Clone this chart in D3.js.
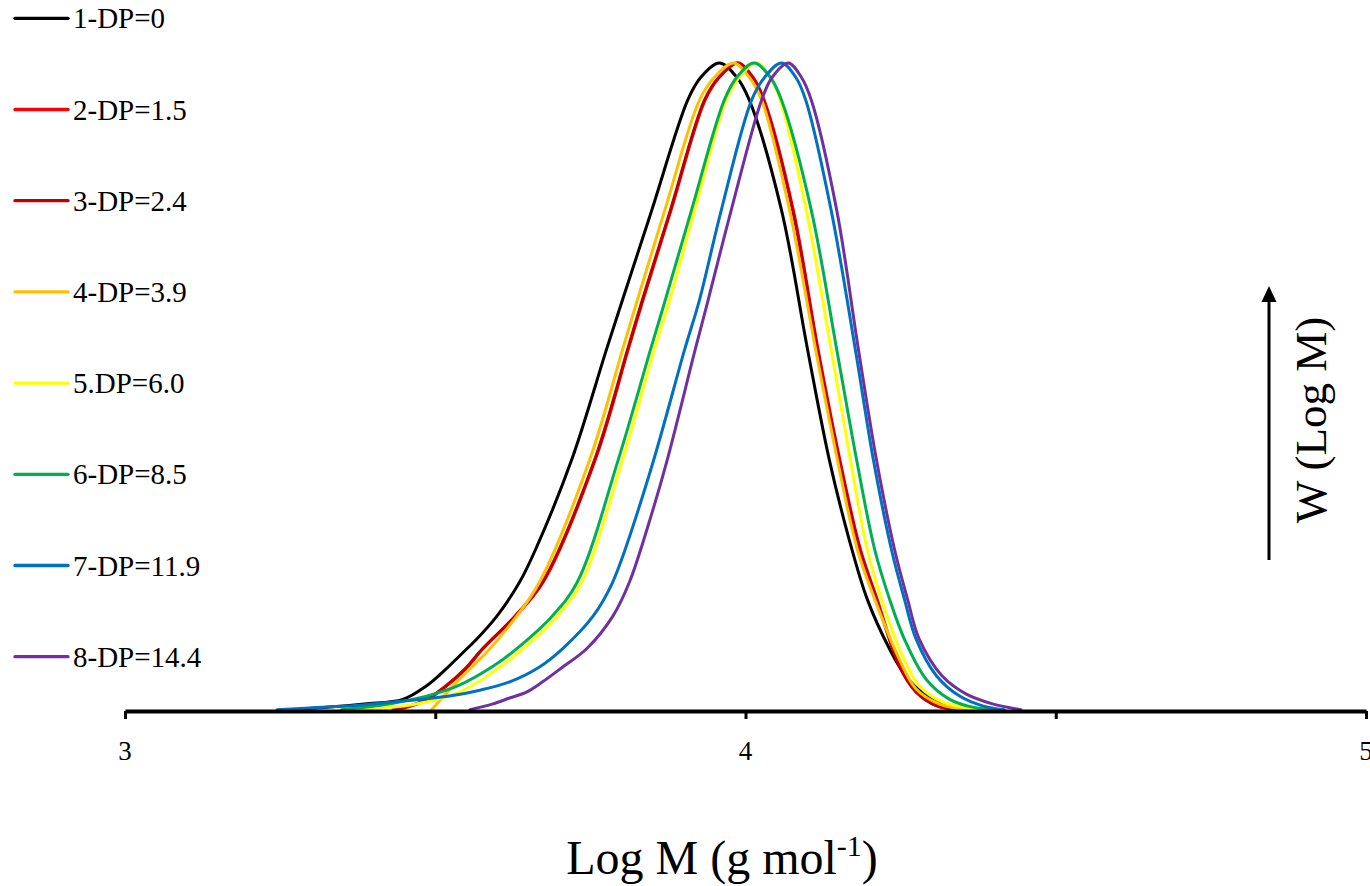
<!DOCTYPE html>
<html>
<head>
<meta charset="utf-8">
<script src="https://cdn.jsdelivr.net/npm/d3@7"></script>
<style>
  html, body { margin: 0; padding: 0; background: #ffffff; }
  svg { display: block; }
  text { font-family: "Liberation Serif", "Times New Roman", Times, serif; fill: #000; }
</style>
</head>
<body>
<svg id="chart" width="1370" height="886"></svg>
<script>
// ---------- DATA ----------
const seriesNames = ["1-DP=0", "2-DP=1.5", "3-DP=2.4", "4-DP=3.9", "5.DP=6.0", "6-DP=8.5", "7-DP=11.9", "8-DP=14.4"];
const seriesColors = ["#000000", "#FF0000", "#C00000", "#FFC000", "#FFFF00", "#00B050", "#0070C0", "#7030A0"];

const xTickValues = [3, 3.5, 4, 4.5, 5];
const xLabelValues = [3, 4, 5];
const xLabelTexts = ["3", "4", "5"];

// Series 1: DP=0
const logM1 = [3.282, 3.330, 3.386, 3.448, 3.486, 3.512, 3.551, 3.567, 3.599, 3.636, 3.662, 3.720, 3.776, 3.802, 3.849, 3.907, 3.928, 3.958, 3.986, 4.006, 4.058, 4.100, 4.135, 4.167, 4.196, 4.232, 4.256, 4.288, 4.337];
const w1    = [0.003, 0.006, 0.011, 0.018, 0.039, 0.060, 0.096, 0.111, 0.146, 0.199, 0.250, 0.388, 0.558, 0.635, 0.773, 0.943, 0.978, 1.000, 0.978, 0.943, 0.773, 0.558, 0.388, 0.265, 0.173, 0.096, 0.057, 0.026, 0.003];

// Series 2: DP=1.5
const logM2 = [3.440, 3.462, 3.488, 3.516, 3.549, 3.577, 3.629, 3.674, 3.758, 3.811, 3.835, 3.880, 3.935, 3.958, 3.988, 4.012, 4.030, 4.077, 4.117, 4.152, 4.185, 4.212, 4.249, 4.276, 4.309, 4.345];
const w2    = [0.002, 0.008, 0.018, 0.037, 0.065, 0.096, 0.146, 0.199, 0.388, 0.558, 0.635, 0.773, 0.943, 0.978, 1.000, 0.978, 0.943, 0.773, 0.558, 0.388, 0.250, 0.173, 0.069, 0.029, 0.008, 0.002];

// Series 3: DP=2.4
const logM3 = [3.432, 3.459, 3.486, 3.515, 3.548, 3.576, 3.628, 3.673, 3.757, 3.810, 3.834, 3.879, 3.934, 3.957, 3.987, 4.011, 4.029, 4.076, 4.116, 4.151, 4.184, 4.211, 4.248, 4.275, 4.308, 4.349];
const w3    = [0.002, 0.008, 0.018, 0.037, 0.065, 0.096, 0.146, 0.199, 0.388, 0.558, 0.635, 0.773, 0.943, 0.978, 1.000, 0.978, 0.943, 0.773, 0.558, 0.388, 0.250, 0.173, 0.069, 0.029, 0.008, 0.002];

// Series 4: DP=3.9
const logM4 = [3.494, 3.535, 3.588, 3.631, 3.668, 3.749, 3.802, 3.826, 3.870, 3.926, 3.950, 3.981, 4.006, 4.026, 4.071, 4.113, 4.148, 4.180, 4.208, 4.248, 4.275, 4.312, 4.356];
const w4    = [0.002, 0.045, 0.096, 0.146, 0.199, 0.388, 0.558, 0.635, 0.773, 0.943, 0.978, 1.000, 0.978, 0.943, 0.773, 0.558, 0.388, 0.250, 0.173, 0.080, 0.034, 0.011, 0.002];

// Series 5: DP=6.0
const logM5 = [3.378, 3.432, 3.486, 3.539, 3.593, 3.641, 3.696, 3.736, 3.802, 3.853, 3.878, 3.918, 3.969, 3.990, 4.018, 4.040, 4.056, 4.098, 4.138, 4.169, 4.196, 4.219, 4.248, 4.280, 4.317, 4.380];
const w5    = [0.002, 0.006, 0.014, 0.029, 0.060, 0.096, 0.146, 0.199, 0.388, 0.558, 0.635, 0.773, 0.943, 0.978, 1.000, 0.978, 0.943, 0.773, 0.558, 0.388, 0.250, 0.173, 0.096, 0.039, 0.014, 0.002];

// Series 6: DP=8.5
const logM6 = [3.349, 3.406, 3.448, 3.486, 3.539, 3.593, 3.631, 3.688, 3.729, 3.795, 3.847, 3.871, 3.913, 3.966, 3.986, 4.014, 4.040, 4.058, 4.106, 4.147, 4.179, 4.208, 4.232, 4.256, 4.291, 4.329, 4.366, 4.404];
const w6    = [0.002, 0.008, 0.015, 0.023, 0.040, 0.069, 0.096, 0.146, 0.199, 0.388, 0.558, 0.635, 0.773, 0.943, 0.978, 1.000, 0.978, 0.943, 0.773, 0.558, 0.388, 0.250, 0.173, 0.111, 0.049, 0.018, 0.006, 0.002];

// Series 7: DP=11.9
const logM7 = [3.245, 3.325, 3.378, 3.443, 3.523, 3.572, 3.620, 3.668, 3.705, 3.754, 3.786, 3.845, 3.902, 3.926, 3.961, 4.010, 4.031, 4.058, 4.081, 4.097, 4.138, 4.177, 4.206, 4.235, 4.256, 4.275, 4.308, 4.345, 4.382, 4.417];
const w7    = [0.002, 0.006, 0.009, 0.015, 0.023, 0.032, 0.045, 0.068, 0.096, 0.146, 0.199, 0.365, 0.558, 0.635, 0.773, 0.943, 0.978, 1.000, 0.978, 0.943, 0.773, 0.558, 0.388, 0.250, 0.173, 0.111, 0.054, 0.023, 0.008, 0.002];

// Series 8: DP=14.4
const logM8 = [3.556, 3.593, 3.620, 3.647, 3.673, 3.707, 3.744, 3.786, 3.813, 3.850, 3.874, 3.919, 3.940, 3.977, 4.026, 4.043, 4.069, 4.090, 4.106, 4.147, 4.182, 4.211, 4.240, 4.261, 4.280, 4.317, 4.356, 4.398, 4.444];
const w8    = [0.002, 0.011, 0.020, 0.029, 0.045, 0.069, 0.096, 0.146, 0.199, 0.308, 0.388, 0.558, 0.635, 0.773, 0.943, 0.978, 1.000, 0.978, 0.943, 0.773, 0.558, 0.388, 0.250, 0.173, 0.111, 0.054, 0.026, 0.011, 0.002];

const xValues = [logM1, logM2, logM3, logM4, logM5, logM6, logM7, logM8];
const yValues = [w1, w2, w3, w4, w5, w6, w7, w8];

const xTitle = "Log M (g mol";
const xTitleSup = "-1";
const yTitle = "W (Log M)";

// ---------- CHART ----------
const svg = d3.select("#chart");

const x = d3.scaleLinear().domain([3, 5]).range([125, 1366]);
const y = d3.scaleLinear().domain([0, 1]).range([711, 63]);

const line = d3.line()
  .x(d => x(d[0]))
  .y(d => y(d[1]))
  .curve(d3.curveCatmullRom.alpha(0.5));

// curves
const gCurves = svg.append("g");
seriesNames.forEach((name, i) => {
  const pts = xValues[i].map((v, j) => [v, yValues[i][j]]);
  gCurves.append("path")
    .datum(pts)
    .attr("d", line)
    .attr("fill", "none")
    .attr("stroke", seriesColors[i])
    .attr("stroke-width", 3)
    .attr("stroke-linejoin", "round")
    .attr("stroke-linecap", "round");
});

// x axis (line + tick marks)
const xAxis = d3.axisBottom(x)
  .tickValues(xTickValues)
  .tickFormat("")
  .tickSizeInner(8)
  .tickSizeOuter(0);

const gx = svg.append("g")
  .attr("transform", "translate(0,711)")
  .call(xAxis);
gx.select(".domain").attr("stroke", "#000").attr("stroke-width", 4);
gx.selectAll(".tick line").attr("stroke", "#000").attr("stroke-width", 3);

// x tick labels
svg.append("g").selectAll("text")
  .data(xLabelValues)
  .join("text")
  .attr("x", d => x(d))
  .attr("y", 760)
  .attr("text-anchor", "middle")
  .style("font-size", "27px")
  .text((d, i) => xLabelTexts[i]);

// x title
const xt = svg.append("text")
  .attr("x", 722)
  .attr("y", 874)
  .attr("text-anchor", "middle")
  .style("font-size", "48px");
xt.append("tspan").text(xTitle);
xt.append("tspan").style("font-size", "30px").attr("dy", -18).text(xTitleSup);
xt.append("tspan").style("font-size", "48px").attr("dy", 18).text(")");

// arrow + y title
svg.append("line")
  .attr("x1", 1269).attr("x2", 1269)
  .attr("y1", 560).attr("y2", 300)
  .attr("stroke", "#000").attr("stroke-width", 3);
svg.append("path")
  .attr("d", "M1269,286 L1276.5,302 L1261.5,302 Z")
  .attr("fill", "#000");
svg.append("text")
  .attr("transform", "translate(1326,420) rotate(-90)")
  .attr("text-anchor", "middle")
  .style("font-size", "45px")
  .text(yTitle);

// legend
const gLeg = svg.append("g");
seriesNames.forEach((name, i) => {
  const ly = 18.3 + i * 91.2;
  gLeg.append("line")
    .attr("x1", 15).attr("x2", 68)
    .attr("y1", ly).attr("y2", ly)
    .attr("stroke", seriesColors[i])
    .attr("stroke-width", 3.3)
    .attr("stroke-linecap", "round");
  gLeg.append("text")
    .attr("x", 73)
    .attr("y", ly + 10)
    .style("font-size", "29px")
    .text(name);
});
</script>
</body>
</html>
